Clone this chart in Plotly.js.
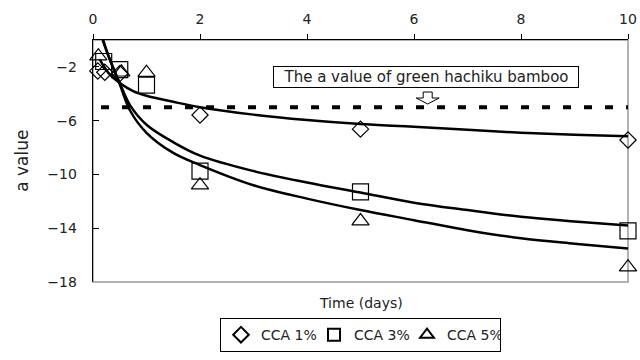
<!DOCTYPE html>
<html>
<head>
<meta charset="utf-8">
<script src="https://cdn.plot.ly/plotly-3.0.1.min.js"></script>
<style>
  html, body { margin: 0; padding: 0; background: #fff; }
  #chart { width: 640px; height: 360px; }
</style>
</head>
<body>
<div id="chart"></div>
<script>
// Measured a value over time for three CCA concentrations
const cca1Days = [0.09, 0.22, 0.5, 2, 5, 10];
const cca1A    = [-2.3, -2.4, -2.5, -5.58, -6.63, -7.44];

const cca3Days = [0.2, 0.5, 1, 2, 5, 10];
const cca3A    = [-1.6, -2.2, -3.36, -9.75, -11.3, -14.2];

const cca5Days = [0.1, 0.53, 1, 2, 5, 10];
const cca5A    = [-1.2, -2.4, -2.43, -10.8, -13.47, -16.9];

// Trend curves through each series
const fit1Days = [0.125, 0.3, 0.5, 0.75, 1, 1.5, 2, 3, 4, 5, 6, 7, 8, 9, 10];
const fit1A    = [-1.44, -2.5, -3.2, -3.8, -4.15, -4.6, -5.0, -5.55, -5.95, -6.25, -6.45, -6.68, -6.9, -7.05, -7.15];

const fit3Days = [0.19, 0.3, 0.5, 0.7, 1, 1.5, 2, 3, 4, 5, 6, 7, 8, 9, 10];
const fit3A    = [0, -1.3, -3.2, -4.9, -6.3, -7.6, -8.6, -9.75, -10.6, -11.35, -12.1, -12.65, -13.15, -13.5, -13.8];

const fit5Days = [0.18, 0.3, 0.5, 0.7, 1, 1.5, 2, 3, 4, 5, 6, 7, 8, 9, 10];
const fit5A    = [0, -1.3, -3.3, -5.3, -6.9, -8.4, -9.3, -10.8, -11.8, -12.65, -13.4, -14.15, -14.75, -15.15, -15.5];

// Reference level: the a value of green hachiku bamboo
const greenLevel = -5;
const greenSpan  = [0.15, 10];

const xTicks = [0, 2, 4, 6, 8, 10];
const yTicks = [-2, -6, -10, -14, -18];

const FONT = 'DejaVu Sans, Arial, sans-serif';
const INK = '#000';

const markerStyle = (symbol, size) => ({
  symbol: symbol,
  size: size,
  color: INK,
  line: { color: INK, width: 1.2 }
});

const curve = (x, y) => ({
  x: x, y: y, type: 'scatter', mode: 'lines',
  line: { color: INK, width: 2.5, shape: 'spline', smoothing: 1 },
  showlegend: false, hoverinfo: 'skip'
});

const traces = [
  {
    x: greenSpan, y: greenSpan.map(() => greenLevel),
    type: 'scatter', mode: 'lines',
    line: { color: INK, width: 4, dash: '8px,13px' },
    showlegend: false, hoverinfo: 'skip'
  },
  curve(fit1Days, fit1A),
  curve(fit3Days, fit3A),
  curve(fit5Days, fit5A),
  { x: cca1Days, y: cca1A, type: 'scatter', mode: 'markers', name: 'CCA 1%',
    marker: markerStyle('diamond-open', 12.5), cliponaxis: false },
  { x: cca3Days, y: cca3A, type: 'scatter', mode: 'markers', name: 'CCA 3%',
    marker: markerStyle('square-open', 16), cliponaxis: false },
  { x: cca5Days, y: cca5A, type: 'scatter', mode: 'markers', name: 'CCA 5%',
    marker: markerStyle('triangle-up-open', 15), cliponaxis: false }
];

const layout = {
  width: 640, height: 360,
  margin: { l: 93, r: 12, t: 40, b: 78, autoexpand: false },
  paper_bgcolor: '#fff', plot_bgcolor: '#fff',
  font: { family: FONT, size: 14, color: '#222' },
  showlegend: true,
  legend: {
    orientation: 'h', x: 0.5, xanchor: 'center',
    yref: 'container', y: 0.022, yanchor: 'bottom',
    bordercolor: INK, borderwidth: 1, bgcolor: '#fff',
    font: { family: FONT, size: 14, color: '#222' },
    itemsizing: 'constant', itemwidth: 30, tracegroupgap: 0,
    entrywidth: 48
  },
  xaxis: {
    side: 'top', range: [0, 10], tickvals: xTicks,
    showgrid: false, zeroline: false,
    showline: true, linecolor: INK, linewidth: 1.3,
    ticks: 'outside', ticklen: 5, tickcolor: INK, tickwidth: 1,
    ticklabelstandoff: 4,
    tickfont: { family: FONT, size: 14, color: '#222' }
  },
  yaxis: {
    range: [-18, 0], tickvals: yTicks,
    showgrid: false, zeroline: false,
    showline: true, linecolor: INK, linewidth: 1.3,
    ticks: 'inside', ticklen: 6, tickcolor: INK, tickwidth: 1,
    ticklabelstandoff: 12,
    tickfont: { family: FONT, size: 14, color: '#222' }
  },
  shapes: [
    // plot frame (right and bottom edges in grey)
    { type: 'rect', xref: 'paper', yref: 'paper', x0: 0, x1: 1, y0: 0, y1: 1,
      line: { color: '#999', width: 1.5 }, layer: 'below' },
    // hollow block arrow under the label
    { type: 'path', xref: 'x', yref: 'y', xsizemode: 'pixel', ysizemode: 'pixel',
      xanchor: 6.256, yanchor: -3.87,
      path: 'M -4.5,0 L 4.5,0 L 4.5,-6 L 11.5,-6 L 0,-12 L -11.5,-6 L -4.5,-6 Z',
      line: { color: INK, width: 1 }, fillcolor: '#fff', layer: 'above' }
  ],
  annotations: [
    { text: 'The a value of green hachiku bamboo',
      xref: 'x', yref: 'y', x: 6.23, y: -2.72, xanchor: 'center', yanchor: 'middle',
      showarrow: false, bgcolor: '#fff', bordercolor: INK, borderwidth: 1,
      width: 302, height: 18, borderpad: 1,
      font: { family: FONT, size: 15, color: '#222' } },
    { text: 'Time (days)', xref: 'paper', yref: 'paper', x: 0.5, y: -0.087,
      xanchor: 'center', yanchor: 'middle', showarrow: false,
      font: { family: FONT, size: 14, color: '#222' } },
    { text: 'a value', xref: 'paper', yref: 'paper', x: -0.133, y: 0.5,
      xanchor: 'center', yanchor: 'middle', textangle: -90, showarrow: false,
      font: { family: FONT, size: 17, color: '#222' } }
  ]
};

Plotly.newPlot('chart', traces, layout, { displayModeBar: false, staticPlot: true });
</script>
</body>
</html>
